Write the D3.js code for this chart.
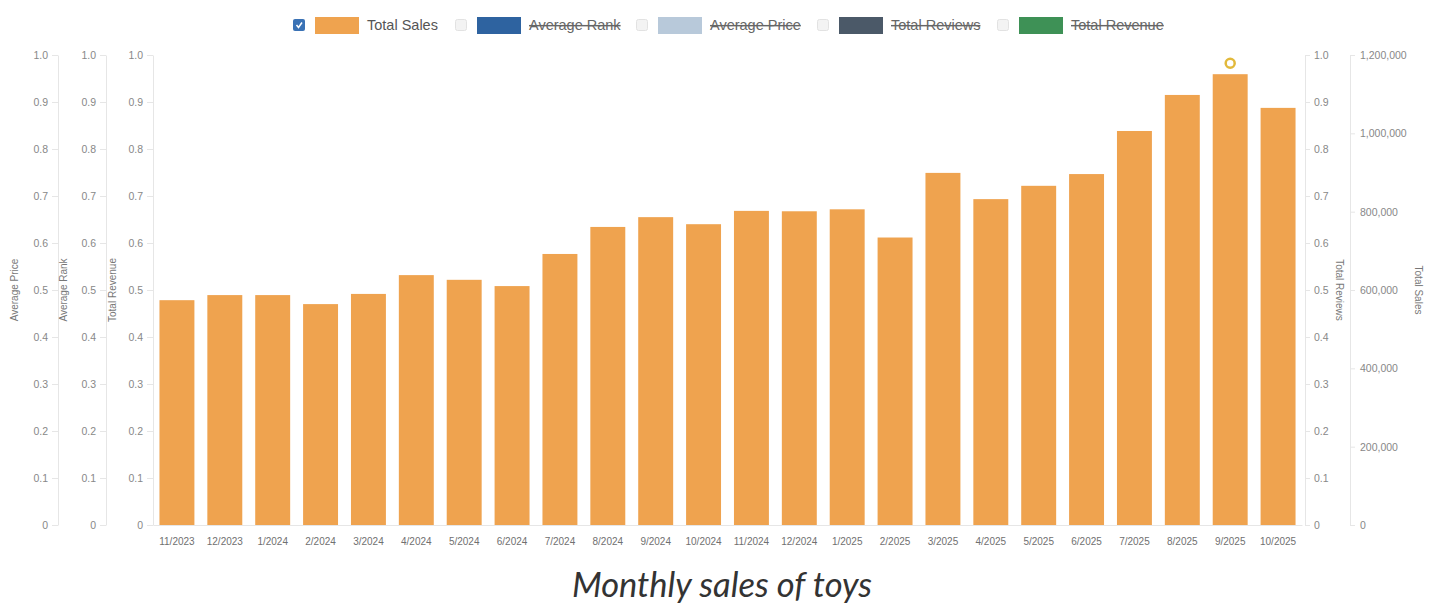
<!DOCTYPE html>
<html><head><meta charset="utf-8">
<script src="https://cdn.jsdelivr.net/npm/d3@7"></script>
<style>
html,body{margin:0;padding:0;background:#fff;}
svg{display:block;font-family:"Liberation Sans",Arial,sans-serif;}
</style></head>
<body><svg id="c" width="1440" height="603"></svg>
<script>
const months = ["11/2023","12/2023","1/2024","2/2024","3/2024","4/2024","5/2024","6/2024","7/2024","8/2024","9/2024","10/2024","11/2024","12/2024","1/2025","2/2025","3/2025","4/2025","5/2025","6/2025","7/2025","8/2025","9/2025","10/2025"];
const totalSales = [574000,587000,587000,564000,590000,638000,626000,610000,692000,761000,786000,768000,802000,801000,806000,734000,899000,832000,866000,896000,1006000,1098000,1151000,1065000];
const unitTicks = [0,0.1,0.2,0.3,0.4,0.5,0.6,0.7,0.8,0.9,1.0];
const salesTicks = [0,200000,400000,600000,800000,1000000,1200000];
const legendItems = ["Total Sales","Average Rank","Average Price","Total Reviews","Total Revenue"];
const legendColors = ["#efa34f","#2e63a0","#b8c9da","#4b5968","#3e9156"];
const legendActive = [true,false,false,false,false];
const highlightMonth = "9/2025";

const svg = d3.select("#c");
const plotTop = 55, plotBottom = 525, plotLeft = 153, plotRight = 1302;

const x = d3.scaleBand().domain(months).range([plotLeft,plotRight]).paddingInner(0.27).paddingOuter(0.135);
const yUnit = d3.scaleLinear().domain([0,1]).range([plotBottom,plotTop]);
const ySales = d3.scaleLinear().domain([0,1200000]).range([plotBottom,plotTop]);

function styleAxis(g){
  g.select(".domain").attr("stroke","#e6e6e6");
  g.selectAll(".tick line").attr("stroke","#e6e6e6");
  g.selectAll(".tick text").attr("fill","#888888").style("font-size","10.5px");
}
const fmtUnit = d => d===0 ? "0" : d3.format(".1f")(d);

// left axes
[[58,"Average Price",18],[106,"Average Rank",67],[153,"Total Revenue",116]].forEach(([ax,title,tx])=>{
  const g = svg.append("g").attr("transform",`translate(${ax},0)`)
    .call(d3.axisLeft(yUnit).tickValues(unitTicks).tickFormat(fmtUnit).tickSize(6).tickSizeOuter(0).tickPadding(4));
  styleAxis(g);
  svg.append("text").attr("transform",`translate(${tx},290) rotate(-90)`).attr("text-anchor","middle")
    .attr("fill","#777").style("font-size","10px").text(title);
});

// right axes
const gR1 = svg.append("g").attr("transform",`translate(1305,0)`)
  .call(d3.axisRight(yUnit).tickValues(unitTicks).tickFormat(fmtUnit).tickSize(5).tickSizeOuter(0).tickPadding(4));
styleAxis(gR1);
svg.append("text").attr("transform",`translate(1336,290) rotate(90)`).attr("text-anchor","middle")
  .attr("fill","#777").style("font-size","10px").text("Total Reviews");
const gR2 = svg.append("g").attr("transform",`translate(1350,0)`)
  .call(d3.axisRight(ySales).tickValues(salesTicks).tickFormat(d=>d===0?"0":d3.format(",")(d)).tickSize(5).tickSizeOuter(0).tickPadding(5));
styleAxis(gR2);
svg.append("text").attr("transform",`translate(1415,290) rotate(90)`).attr("text-anchor","middle")
  .attr("fill","#777").style("font-size","10px").text("Total Sales");

// bars
svg.append("g").selectAll("rect").data(months).join("rect")
  .attr("x",d=>x(d)).attr("width",x.bandwidth())
  .attr("y",(d,i)=>ySales(totalSales[i])).attr("height",(d,i)=>plotBottom-ySales(totalSales[i]))
  .attr("fill","#efa34f");

// x axis
const gx = svg.append("g").attr("transform",`translate(0,${plotBottom})`)
  .call(d3.axisBottom(x).tickSize(0).tickPadding(13));
gx.select(".domain").attr("stroke","#e6e6e6");
gx.selectAll(".tick text").attr("fill","#707070").style("font-size","10px");

// highlight marker
const hi = months.indexOf(highlightMonth);
svg.append("circle").attr("cx",x(highlightMonth)+x.bandwidth()/2).attr("cy",ySales(totalSales[hi])-11)
  .attr("r",4.5).attr("fill","#fff").attr("stroke","#e2b93b").attr("stroke-width",2.5);

// legend
const legX = [293,455,636,817,997];
legendItems.forEach((name,i)=>{
  const g = svg.append("g").attr("transform",`translate(${legX[i]},0)`);
  if(legendActive[i]){
    g.append("rect").attr("x",0).attr("y",19).attr("width",12).attr("height",12).attr("rx",2).attr("fill","#3a72b5");
    g.append("path").attr("d","M3.5,25 L5.5,27.5 L9,22.5").attr("stroke","#fff").attr("stroke-width",1.5).attr("fill","none");
  } else {
    g.append("rect").attr("x",0.5).attr("y",19.5).attr("width",11).attr("height",11).attr("rx",2).attr("fill","#f3f3f3").attr("stroke","#e2e2e2");
  }
  g.append("rect").attr("x",22).attr("y",17).attr("width",44).attr("height",17).attr("fill",legendColors[i]);
  const t = g.append("text").attr("x",74).attr("y",30).attr("fill",legendActive[i]?"#555":"#666")
    .style("font-size","14.5px").text(name);
  if(!legendActive[i]) t.style("text-decoration","line-through");
});

// title
svg.append("text").attr("x",722).attr("y",597).attr("text-anchor","middle")
  .style("font-family","Lato, sans-serif").style("font-style","italic").style("font-size","34.5px")
  .attr("fill","#333").text("Monthly sales of toys");
</script></body></html>
